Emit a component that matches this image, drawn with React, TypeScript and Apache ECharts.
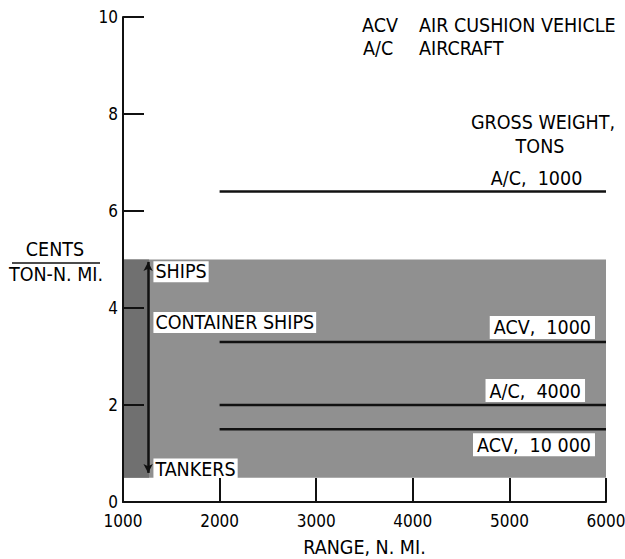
import React, { useEffect, useRef } from "react";
import * as echarts from "echarts";

const xTicks = [1000, 2000, 3000, 4000, 5000, 6000];
const yTicks = [0, 2, 4, 6, 8, 10];

// Ship cost band (cents / ton-n.mi.)
const shipBandRange = [1000, 6000];
const shipBandCost = [0.5, 5.0];
const shipStripRange = [1000, 1270];
const shipArrowRange = 1260;
const shipLabels = ["SHIPS", "CONTAINER SHIPS", "TANKERS"];
const shipLabelCost = [4.75, 3.7, 0.68];

// Aircraft / ACV lines
const vehicleNames = ["A/C, 1000", "ACV, 1000", "A/C, 4000", "ACV, 10 000"];
const vehicleCost = [6.4, 3.3, 2.0, 1.5];
const vehicleRangeStart = 2000;
const vehicleRangeEnd = 6000;

const FONT = "'Liberation Sans Narrow', 'DejaVu Sans Condensed', sans-serif";
const FS = 19.5;
const INK = "#000";

export default function App() {
  const ref = useRef<HTMLDivElement>(null);
  useEffect(() => {
    if (!ref.current) return;
    const chart = echarts.init(ref.current, null, { renderer: "svg" });

    const lineSeries = vehicleNames.map((name, i) => ({
      type: "line",
      name,
      data: [
        [vehicleRangeStart, vehicleCost[i]],
        [vehicleRangeEnd, vehicleCost[i]],
      ],
      symbol: "none",
      lineStyle: { color: "#111", width: 2.5 },
      z: 5,
    }));

    const labelX = [5755, 5886, 5783, 5886];
    const labelBelow = [false, false, false, true];
    const labelBg = [false, true, true, true];
    const vehicleLabelSeries = {
      type: "scatter",
      symbolSize: 0,
      z: 6,
      itemStyle: { opacity: 1 },
      data: vehicleNames.map((name, i) => ({
        value: [labelX[i], vehicleCost[i]],
        label: {
          show: true,
          formatter: name.replace(", ", ",  "),
          position: labelBelow[i] ? [0, 4] : [0, -3],
          align: "right",
          verticalAlign: labelBelow[i] ? "top" : "bottom",
          fontFamily: FONT,
          fontSize: FS,
          color: INK,
          backgroundColor: labelBg[i] ? "#fff" : "transparent",
          padding: labelBg[i] ? [2, 4, 1, 4] : 0,
        },
      })),
    };

    const shipLabelSeries = {
      type: "scatter",
      symbolSize: 0,
      z: 6,
      itemStyle: { opacity: 1 },
      data: shipLabels.map((name, i) => ({
        value: [shipArrowRange + 55, shipLabelCost[i]],
        label: {
          show: true,
          formatter: name,
          position: [0, 0],
          align: "left",
          verticalAlign: "middle",
          fontFamily: FONT,
          fontSize: FS,
          color: INK,
          backgroundColor: "#fff",
          padding: [1, 2, 0, 2],
        },
      })),
    };

    const bandSeries = {
      type: "line",
      data: [],
      markArea: {
        silent: true,
        itemStyle: { color: "#909090" },
        data: [
          [
            { xAxis: shipBandRange[0], yAxis: shipBandCost[0] },
            { xAxis: shipBandRange[1], yAxis: shipBandCost[1] },
          ],
          [
            { xAxis: shipStripRange[0], yAxis: shipBandCost[0], itemStyle: { color: "#707070" } },
            { xAxis: shipStripRange[1], yAxis: shipBandCost[1] },
          ],
        ],
      },
      markLine: {
        silent: true,
        symbol: ["arrow", "arrow"],
        symbolSize: [7, 9],
        label: { show: false },
        lineStyle: { color: "#111", width: 2.5, type: "solid" },
        data: [
          [
            { coord: [shipArrowRange, shipLabelCost[2] - 0.08] },
            { coord: [shipArrowRange, shipBandCost[1] - 0.05] },
          ],
        ],
      },
      z: 1,
    };

    const txt = (text: string, x: number, y: number, align: string = "left") => ({
      type: "text",
      x,
      y,
      style: {
        text,
        fontFamily: FONT,
        fontSize: FS,
        fill: INK,
        align,
        verticalAlign: "middle",
      },
    });

    chart.setOption({
      animation: false,
      backgroundColor: "#fff",
      grid: {
        left: 123,
        right: 19,
        top: 17,
        bottom: 57,
        containLabel: false,
        outerBoundsMode: "none",
      },
      xAxis: {
        type: "value",
        min: xTicks[0],
        max: xTicks[xTicks.length - 1],
        interval: 1000,
        axisLine: { show: true, onZero: false, lineStyle: { color: "#111", width: 2 } },
        axisTick: { show: true, inside: true, length: 24, lineStyle: { color: "#111", width: 2 } },
        splitLine: { show: false },
        axisLabel: {
          fontFamily: FONT,
          fontSize: 17,
          lineHeight: 14,
          color: INK,
          margin: 12,
          formatter: (v: number) => String(v),
        },
        name: "RANGE, N. MI.",
        nameLocation: "middle",
        nameGap: 36,
        nameTextStyle: { fontFamily: FONT, fontSize: FS, lineHeight: 18, color: INK },
        z: 10,
      },
      yAxis: {
        type: "value",
        min: yTicks[0],
        max: yTicks[yTicks.length - 1],
        interval: 2,
        axisLine: { show: true, onZero: false, lineStyle: { color: "#111", width: 2 } },
        axisTick: { show: true, inside: true, length: 21, lineStyle: { color: "#111", width: 2 } },
        splitLine: { show: false },
        axisLabel: {
          fontFamily: FONT,
          fontSize: 17,
          lineHeight: 14,
          color: INK,
          margin: 5,
          padding: [0, 0, 4, 0],
          formatter: (v: number) => String(v),
        },
        z: 10,
      },
      graphic: [
        txt("ACV", 362, 25),
        txt("AIR CUSHION VEHICLE", 419, 25),
        txt("A/C", 363, 48),
        txt("AIRCRAFT", 419, 48),
        txt("GROSS WEIGHT,", 543, 122, "center"),
        txt("TONS", 540, 146, "center"),
        txt("CENTS", 55, 249, "center"),
        {
          type: "line",
          shape: { x1: 12, y1: 263, x2: 100, y2: 263 },
          style: { stroke: "#111", lineWidth: 1.5 },
        },
        txt("TON-N. MI.", 56, 274, "center"),
      ],
      series: [bandSeries, ...lineSeries, vehicleLabelSeries, shipLabelSeries],
    });
    return () => chart.dispose();
  }, []);

  return (
    <div
      ref={ref}
      style={{ position: "absolute", left: 0, top: 0, width: 625, height: 559 }}
    />
  );
}
